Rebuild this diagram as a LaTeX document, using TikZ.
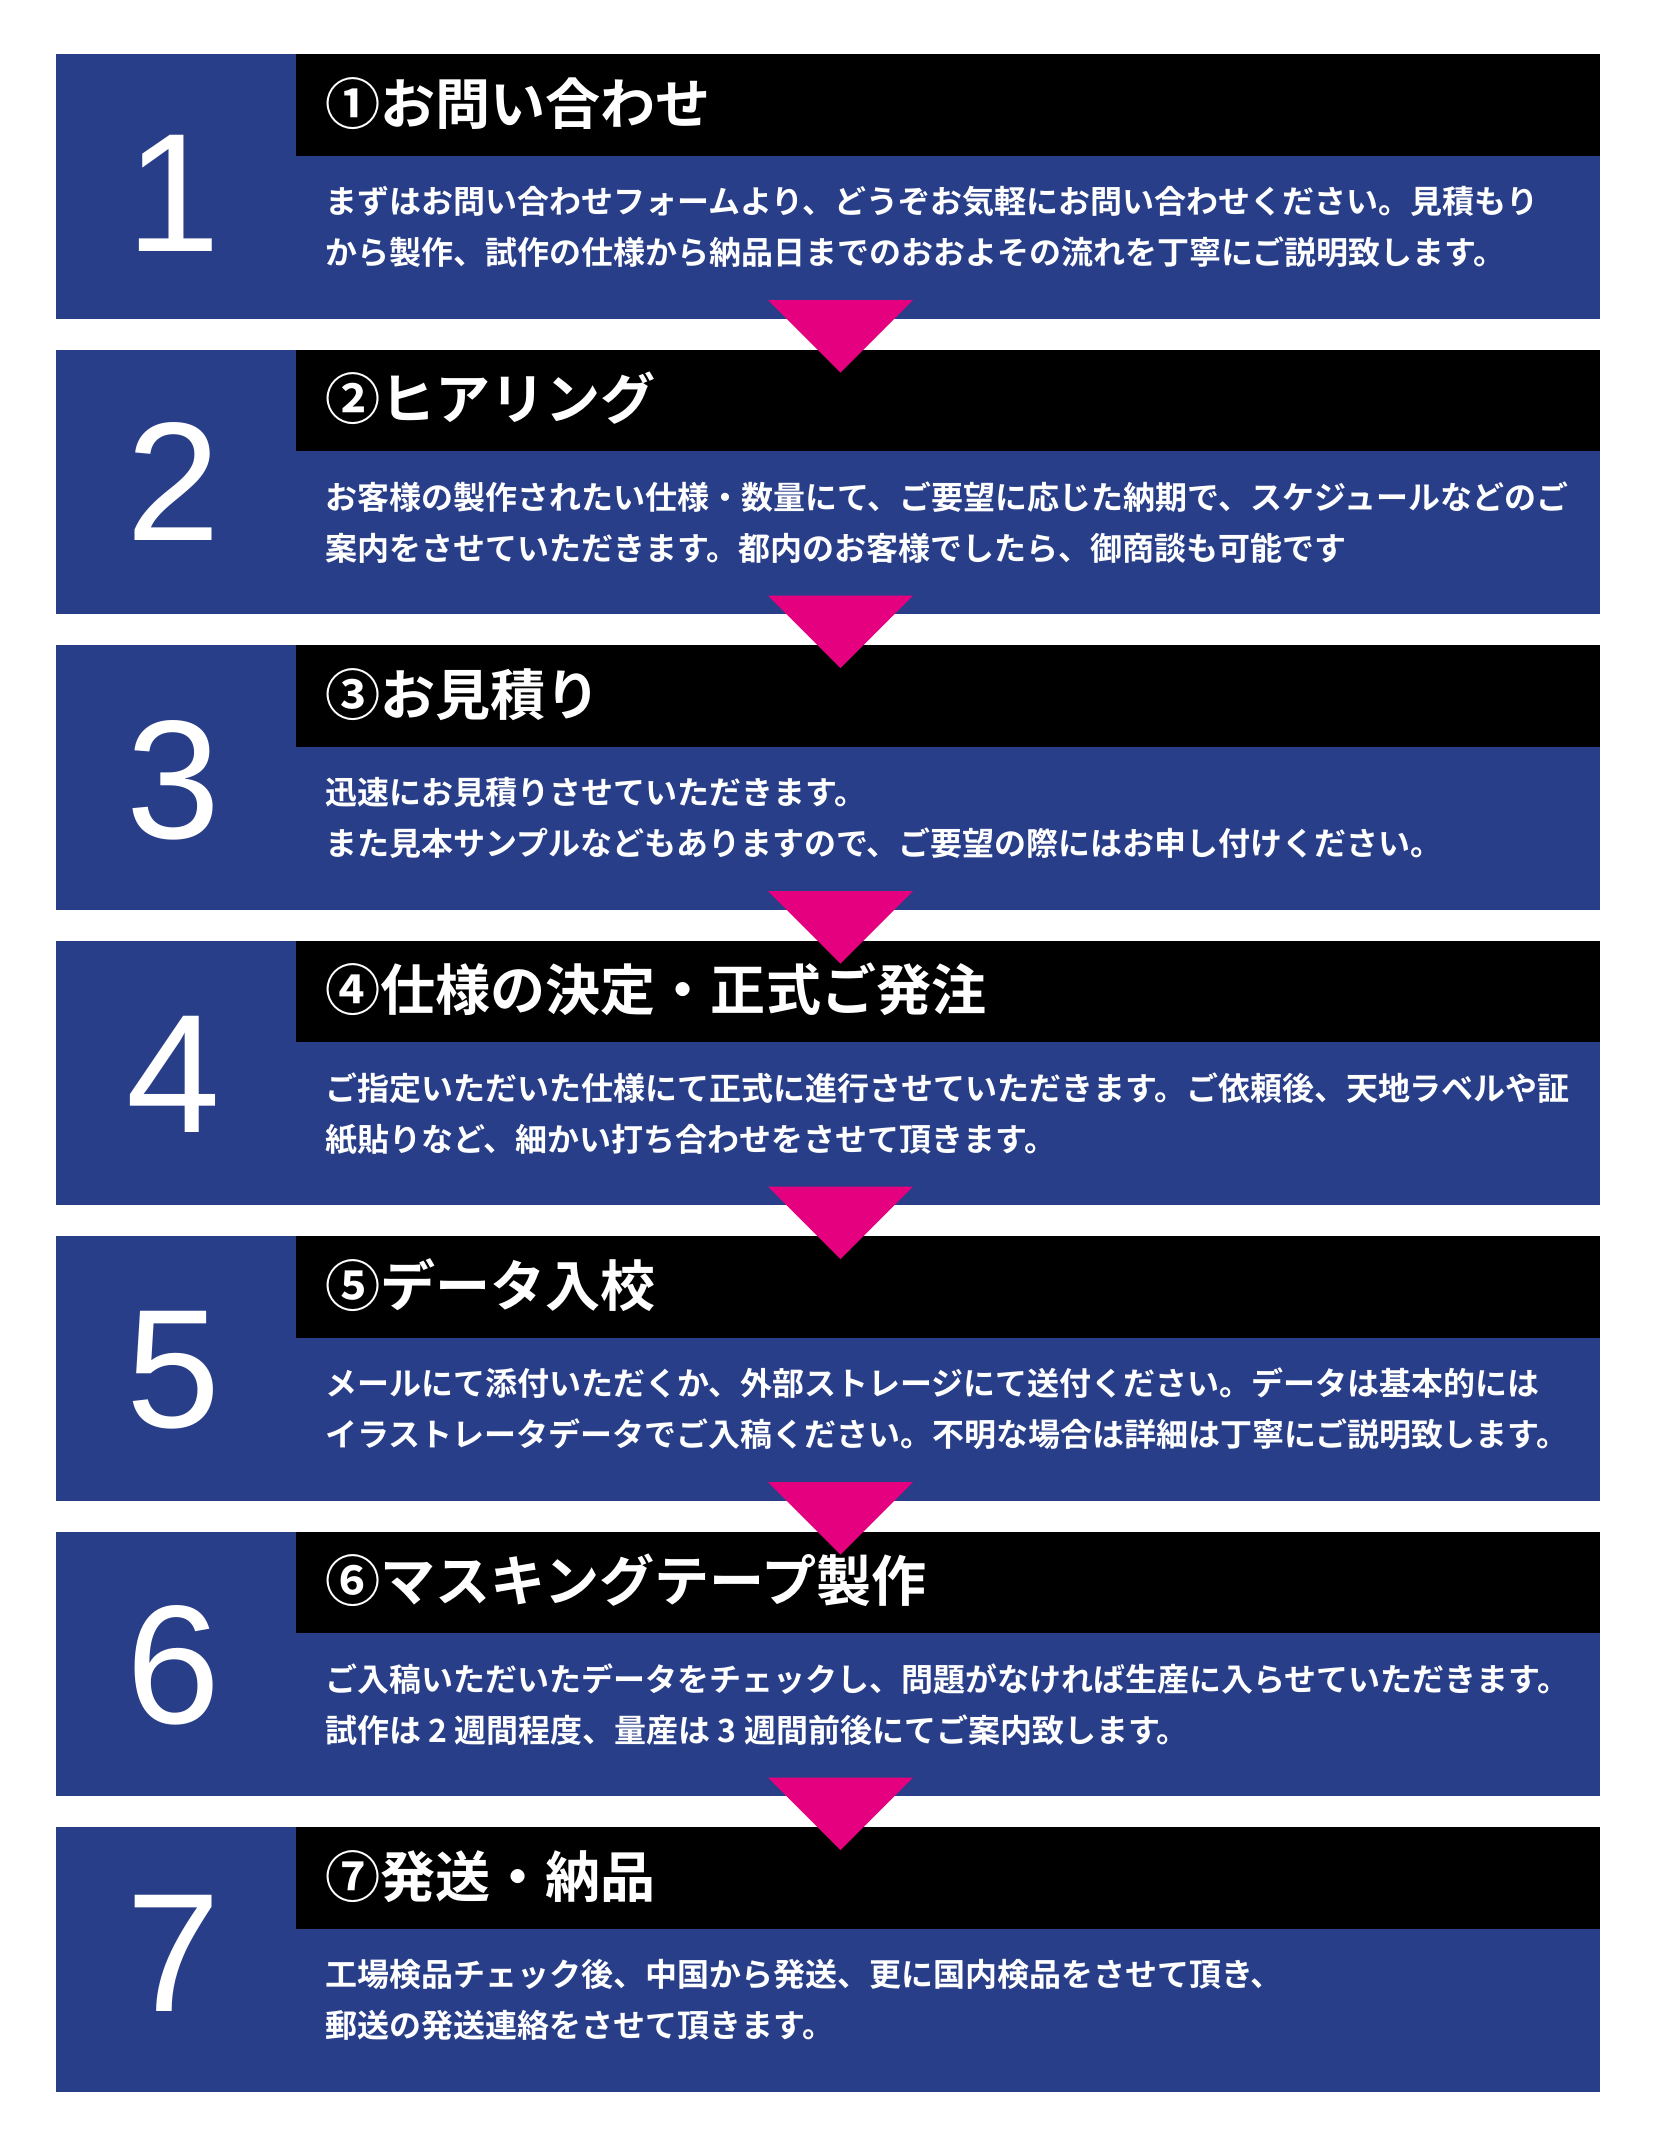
\documentclass[tikz,border=0pt]{standalone}
\usepackage{fontspec}
\newfontfamily\jp{Noto Sans CJK JP}[BoldFont={Noto Sans CJK JP Bold}]
\newfontfamily\numfont{Liberation Sans}
\definecolor{navy}{RGB}{41,62,136}
\definecolor{mag}{RGB}{228,0,127}
\tikzset{
  digitnum/.style={font=\numfont\fontsize{169}{169}\selectfont, text=white, anchor=base, inner sep=0pt},
  steptitle/.style={font=\jp\bfseries\fontsize{55.1}{55.1}\selectfont, text=white, anchor=base west, inner sep=0pt},
  stepbody/.style={font=\jp\bfseries\fontsize{32}{32}\selectfont, text=white, anchor=base west, inner sep=0pt},
  bluebox/.style={fill=navy},
  headbox/.style={fill=black},
  arrowtri/.style={fill=mag},
}
\newcommand\flowstep[6]{%
  \fill[bluebox] (56,#2) rectangle ++(1544,264.5);
  \fill[headbox] (295.5,#2) rectangle ++(1304.5,101.5);
  \node[digitnum] (n#1) at (173,#2+#6) {#1};
  \node[steptitle] (t#1) at (325,#2+70) {#3};
  \node[stepbody] (a#1) at (325,#2+159.5) {#4};
  \node[stepbody] (b#1) at (325,#2+210.5) {#5};
}
\newcommand\flowtri[1]{%
  \fill[arrowtri] (768,#1+246) -- (913,#1+246) -- (840.5,#1+318.7) -- cycle;
}
\begin{document}
\begin{tikzpicture}[x=1pt,y=-1pt]
\useasboundingbox (0,0) rectangle (1654,2153);
\fill[white] (0,0) rectangle (1654,2153);
\flowstep{1}{54}{①お問い合わせ}{まずはお問い合わせフォームより、どうぞお気軽にお問い合わせください。見積もり}{から製作、試作の仕様から納品日までのおおよその流れを丁寧にご説明致します。}{197}
\flowstep{2}{349.5}{②ヒアリング}{お客様の製作されたい仕様・数量にて、ご要望に応じた納期で、スケジュールなどのご}{案内をさせていただきます。都内のお客様でしたら、御商談も可能です}{191}
\flowstep{3}{645}{③お見積り}{迅速にお見積りさせていただきます。}{また見本サンプルなどもありますので、ご要望の際にはお申し付けください。}{193}
\flowstep{4}{940.5}{④仕様の決定・正式ご発注}{ご指定いただいた仕様にて正式に進行させていただきます。ご依頼後、天地ラベルや証}{紙貼りなど、細かい打ち合わせをさせて頂きます。}{192}
\flowstep{5}{1236}{⑤データ入校}{メールにて添付いただくか、外部ストレージにて送付ください。データは基本的には}{イラストレータデータでご入稿ください。不明な場合は詳細は丁寧にご説明致します。}{191}
\flowstep{6}{1531.5}{⑥マスキングテープ製作}{ご入稿いただいたデータをチェックし、問題がなければ生産に入らせていただきます。}{試作は 2 週間程度、量産は 3 週間前後にてご案内致します。}{192}
\flowstep{7}{1827}{⑦発送・納品}{工場検品チェック後、中国から発送、更に国内検品をさせて頂き、}{郵送の発送連絡をさせて頂きます。}{184}
\flowtri{54}
\flowtri{349.5}
\flowtri{645}
\flowtri{940.5}
\flowtri{1236}
\flowtri{1531.5}
\end{tikzpicture}
\end{document}
